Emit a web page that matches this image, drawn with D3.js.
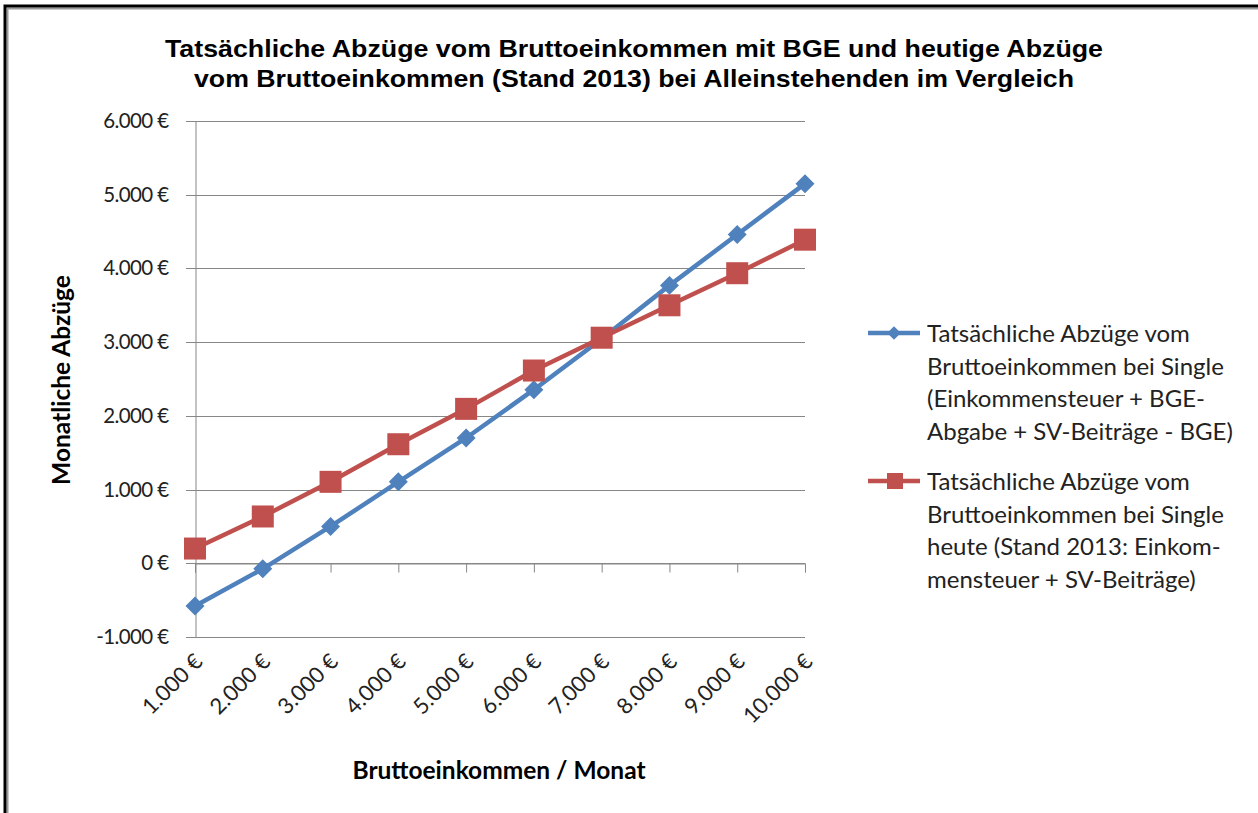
<!DOCTYPE html>
<html>
<head>
<meta charset="utf-8">
<script src="https://cdn.jsdelivr.net/npm/d3@7"></script>
<style>
  body { margin: 0; background: #fff; }
  svg { display: block; }
</style>
</head>
<body>
<div id="container"></div>
<script>
var width = 1258;
var height = 813;

// data
var categories = ["1.000 €", "2.000 €", "3.000 €", "4.000 €", "5.000 €", "6.000 €", "7.000 €", "8.000 €", "9.000 €", "10.000 €"];
var mitBGE = [-580, -75, 500, 1105, 1700, 2355, 3045, 3770, 4460, 5150];
var heute = [200, 635, 1105, 1615, 2095, 2615, 3060, 3500, 3935, 4390];
var yTicks = [-1000, 0, 1000, 2000, 3000, 4000, 5000, 6000];
var titleLines = ["Tatsächliche Abzüge vom Bruttoeinkommen mit BGE und heutige Abzüge",
                  "vom Bruttoeinkommen (Stand 2013) bei Alleinstehenden im Vergleich"];
var legend1 = ["Tatsächliche Abzüge vom", "Bruttoeinkommen bei Single", "(Einkommensteuer + BGE-", "Abgabe + SV-Beiträge - BGE)"];
var legend2 = ["Tatsächliche Abzüge vom", "Bruttoeinkommen bei Single", "heute (Stand 2013: Einkom-", "mensteuer + SV-Beiträge)"];

var blue = "#4f81bd", red = "#c0504d", grid = "#878787";
var bodyFont = "Lato, 'Open Sans', sans-serif";

var svg = d3.select('#container').append('svg')
	.attr('width', width)
	.attr('height', height);

// frame (cut at right and bottom edge)
svg.append('rect').attr('x', 7.5).attr('y', 8.5).attr('width', 1300).attr('height', 900)
	.attr('fill', 'none').attr('stroke', '#9a9a9a').attr('stroke-width', 2);
svg.append('rect').attr('x', 5).attr('y', 6).attr('width', 1300).attr('height', 900)
	.attr('fill', 'none').attr('stroke', '#000').attr('stroke-width', 3);

var x = d3.scalePoint().domain(categories).range([195, 805]);
var y = d3.scaleLinear().domain([-1000, 6000]).range([637, 121]);

var euro = function(d){ return d3.format(",")(d).replace(/,/g, ".").replace("−", "-") + " €"; };

// gridlines
svg.append('g').selectAll('line').data(yTicks).enter().append('line')
	.attr('x1', 186).attr('x2', 805)
	.attr('y1', function(d){ return Math.round(y(d)) + 0.5; })
	.attr('y2', function(d){ return Math.round(y(d)) + 0.5; })
	.attr('stroke', grid).attr('stroke-width', 1);

// y axis
var yAxis = svg.append('g').attr('transform', 'translate(195.5,0)')
	.call(d3.axisLeft(y).tickValues(yTicks).tickSize(0).tickPadding(27).tickFormat(euro));
yAxis.select('.domain').attr('stroke', grid);
yAxis.selectAll('text').attr('font-family', bodyFont).attr('font-size', 20.5)
	.attr('letter-spacing', -0.6).attr('fill', '#222');

// x axis at 0, ticks downward
var xAxis = svg.append('g').attr('transform', 'translate(0,' + (Math.round(y(0)) + 0.5) + ')')
	.call(d3.axisBottom(x).tickSize(9).tickFormat(''));
xAxis.select('.domain').attr('stroke', grid);
xAxis.selectAll('.tick line').attr('stroke', grid);

// x labels low, rotated
svg.append('g').selectAll('text').data(categories).enter().append('text')
	.attr('transform', function(d){ return 'translate(' + (x(d) + 9) + ',663) rotate(-45)'; })
	.attr('text-anchor', 'end')
	.attr('font-family', bodyFont).attr('font-size', 22).attr('fill', '#222')
	.text(function(d){ return d; });

// lines
var line = d3.line().x(function(d, i){ return x(categories[i]); }).y(function(d){ return y(d); });

svg.append('path').datum(mitBGE).attr('d', line)
	.attr('fill', 'none').attr('stroke', blue).attr('stroke-width', 4.5).attr('stroke-linejoin', 'round');
svg.append('path').datum(heute).attr('d', line)
	.attr('fill', 'none').attr('stroke', red).attr('stroke-width', 4.5).attr('stroke-linejoin', 'round');

var diamond = d3.symbol().type(d3.symbolSquare).size(180);
svg.append('g').selectAll('path').data(mitBGE).enter().append('path')
	.attr('d', diamond)
	.attr('transform', function(d, i){ return 'translate(' + x(categories[i]) + ',' + y(d) + ') rotate(45)'; })
	.attr('fill', blue);

svg.append('g').selectAll('rect').data(heute).enter().append('rect')
	.attr('x', function(d, i){ return x(categories[i]) - 11; })
	.attr('y', function(d){ return y(d) - 11; })
	.attr('width', 22).attr('height', 22)
	.attr('fill', red);

// title
svg.append('g').selectAll('text').data(titleLines).enter().append('text')
	.attr('x', 634).attr('y', function(d, i){ return 57 + i * 30; })
	.attr('text-anchor', 'middle')
	.attr('font-family', "'Liberation Sans', Arial, sans-serif").attr('font-weight', 'bold')
	.attr('font-size', 24)
	.attr('textLength', function(d, i){ return i == 0 ? 938 : 880; })
	.attr('lengthAdjust', 'spacingAndGlyphs')
	.attr('fill', '#000')
	.text(function(d){ return d; });

// axis titles
svg.append('text')
	.attr('transform', 'translate(70,380) rotate(-90)')
	.attr('text-anchor', 'middle')
	.attr('font-family', bodyFont).attr('font-weight', 'bold').attr('font-size', 24.5)
	.attr('fill', '#000')
	.text('Monatliche Abzüge');

svg.append('text')
	.attr('x', 499).attr('y', 779)
	.attr('text-anchor', 'middle')
	.attr('font-family', bodyFont).attr('font-weight', 'bold').attr('font-size', 24.5)
	.attr('fill', '#000')
	.text('Bruttoeinkommen / Monat');

// legend
var legendDiamond = d3.symbol().type(d3.symbolSquare).size(90);
function legendEntry(lines, cy, color, square){
	var g = svg.append('g');
	g.append('line').attr('x1', 868).attr('x2', 920).attr('y1', cy).attr('y2', cy)
		.attr('stroke', color).attr('stroke-width', 4.5);
	if(square){
		g.append('rect').attr('x', 887).attr('y', cy - 8).attr('width', 16).attr('height', 16).attr('fill', color);
	} else {
		g.append('path').attr('d', legendDiamond).attr('transform', 'translate(894,' + cy + ') rotate(45)').attr('fill', color);
	}
	g.selectAll('text').data(lines).enter().append('text')
		.attr('x', 927).attr('y', function(d, i){ return cy + 9 + i * 32.5; })
		.attr('font-family', bodyFont).attr('font-size', 24).attr('fill', '#222')
		.text(function(d){ return d; });
}
legendEntry(legend1, 333, blue, false);
legendEntry(legend2, 481, red, true);
</script>
</body>
</html>
